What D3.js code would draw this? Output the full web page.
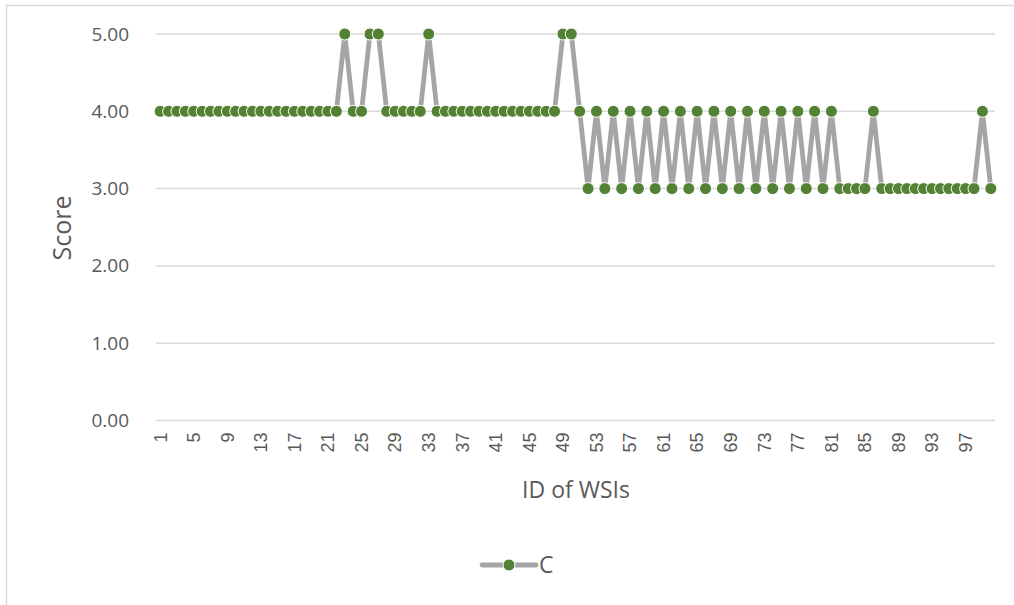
<!DOCTYPE html>
<html>
<head>
<meta charset="utf-8">
<script src="https://cdn.jsdelivr.net/npm/d3@7"></script>
<style>
  html, body { margin: 0; padding: 0; background: #fff; }
  svg { display: block; font-family: "Open Sans", "Noto Sans", sans-serif; }
</style>
</head>
<body>
<svg id="chart" width="1014" height="605"></svg>
<script>
// WSI identifiers 1..100
const ids = d3.range(1, 101);
// Score per WSI, series "C"
const scores = [
  4,4,4,4,4,4,4,4,4,4, 4,4,4,4,4,4,4,4,4,4,
  4,4,5,4,4,5,5,4,4,4, 4,4,5,4,4,4,4,4,4,4,
  4,4,4,4,4,4,4,4,5,5, 4,3,4,3,4,3,4,3,4,3,
  4,3,4,3,4,3,4,3,4,3, 4,3,4,3,4,3,4,3,4,3,
  4,3,3,3,3,4,3,3,3,3, 3,3,3,3,3,3,3,3,4,3
];
const yTicks = [0, 1, 2, 3, 4, 5];
const xTickLabels = ids.filter(d => (d - 1) % 4 === 0);
const seriesName = "C";

const svg = d3.select("#chart");
const plotLeft = 156, plotRight = 995, plotTop = 34, plotBottom = 420.5;

// outer chart frame
svg.append("rect")
  .attr("x", 6.5).attr("y", 5.5)
  .attr("width", 1014).attr("height", 605)
  .attr("fill", "none").attr("stroke", "#d9d9d9").attr("stroke-width", 1.5);

const x = d3.scaleBand()
  .domain(ids)
  .range([plotLeft, plotRight]);

const y = d3.scaleLinear()
  .domain([0, 5])
  .range([plotBottom, plotTop]);

// horizontal gridlines
svg.append("g")
  .selectAll("line")
  .data(yTicks)
  .join("line")
  .attr("x1", plotLeft).attr("x2", plotRight)
  .attr("y1", d => y(d)).attr("y2", d => y(d))
  .attr("stroke", "#d9d9d9").attr("stroke-width", 1.5);

// y axis labels
const yAxis = svg.append("g")
  .attr("transform", `translate(${plotLeft - 27},0)`)
  .call(d3.axisLeft(y).tickValues(yTicks).tickFormat(d3.format(".2f")).tickSize(0).tickPadding(0));
yAxis.select(".domain").remove();
yAxis.selectAll("text")
  .attr("fill", "#595959")
  .style("font-size", "19px")
  .style("font-family", "'Open Sans', sans-serif");

// x axis labels, rotated
const xAxis = svg.append("g")
  .attr("transform", `translate(0,${plotBottom})`)
  .call(d3.axisBottom(x).tickValues(xTickLabels).tickSize(0).tickPadding(0));
xAxis.select(".domain").remove();
xAxis.selectAll("text")
  .attr("fill", "#595959")
  .style("font-size", "18px")
  .attr("text-anchor", "end")
  .attr("transform", "translate(0,12) rotate(-90)")
  .attr("dy", "0.35em")
  .attr("y", 0).attr("x", 0);

// axis titles
svg.append("text")
  .attr("transform", "translate(71,228) rotate(-90)")
  .attr("text-anchor", "middle")
  .attr("fill", "#595959")
  .style("font-size", "25px")
  .text("Score");

svg.append("text")
  .attr("x", 576).attr("y", 498)
  .attr("text-anchor", "middle")
  .attr("fill", "#595959")
  .style("font-size", "23px")
  .text("ID of WSIs");

// series line
const pts = ids.map((id, i) => ({ id, v: scores[i] }));
const cx = d => x(d.id) + x.bandwidth() / 2;

svg.append("path")
  .datum(pts)
  .attr("fill", "none")
  .attr("stroke", "#a5a5a5")
  .attr("stroke-width", 4.8)
  .attr("stroke-linejoin", "round")
  .attr("d", d3.line().x(cx).y(d => y(d.v)));

svg.append("g")
  .selectAll("circle")
  .data(pts)
  .join("circle")
  .attr("cx", cx)
  .attr("cy", d => y(d.v))
  .attr("r", 6)
  .attr("fill", "#548235")
  .attr("stroke", "#ffffff")
  .attr("stroke-width", 1);

// legend
const lg = svg.append("g").attr("transform", "translate(0,565)");
lg.append("line")
  .attr("x1", 482).attr("x2", 536)
  .attr("y1", 0).attr("y2", 0)
  .attr("stroke", "#a5a5a5").attr("stroke-width", 4.8).attr("stroke-linecap", "round");
lg.append("circle")
  .attr("cx", 509).attr("cy", 0).attr("r", 6)
  .attr("fill", "#548235").attr("stroke", "#fff").attr("stroke-width", 1);
lg.append("text")
  .attr("x", 539).attr("y", 0).attr("dy", "0.36em")
  .attr("fill", "#595959")
  .style("font-size", "23px")
  .text(seriesName);
</script>
</body>
</html>
